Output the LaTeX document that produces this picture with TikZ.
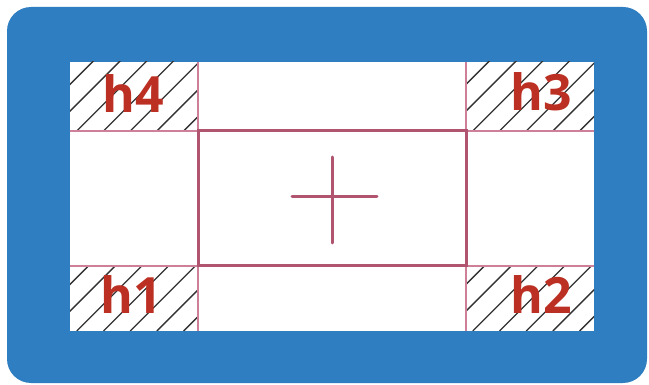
\documentclass[tikz,border=0pt]{standalone}
\usepackage{fontspec}
\newfontfamily\lblfont{Open Sans}
\definecolor{frameblue}{RGB}{47,126,193}
\definecolor{gridpink}{RGB}{206,128,152}
\definecolor{rectpink}{RGB}{176,84,112}
\definecolor{lblred}{RGB}{188,48,36}
\definecolor{hatchgray}{RGB}{50,50,50}
\tikzset{
  gridline/.style={draw=gridpink, line width=1.6pt},
  innerrect/.style={draw=rectpink, line width=3pt},
  crossline/.style={draw=rectpink, line width=3pt, line cap=round},
  hatchline/.style={draw=hatchgray, line width=1.3pt},
  lbl/.style={text=lblred, font=\lblfont\bfseries\fontsize{50}{50}\selectfont, inner sep=0pt, anchor=base}
}
\begin{document}
\begin{tikzpicture}[x=1pt,y=-1pt]
\useasboundingbox (0,0) rectangle (649,385);
\fill[white] (0,0) rectangle (649,385);
\fill[frameblue, rounded corners=24pt] (7,7) rectangle (647,383);
\fill[white] (70,62) rectangle (594,331);
\foreach \xa/\ya/\xb/\yb in {70/62/198/131, 466/62/594/131, 70/266/198/331, 466/266/594/331} {
  \begin{scope}
    \clip (\xa,\ya) rectangle (\xb,\yb);
    \foreach \k in {0,...,12} \draw[hatchline] (\xa-100+\k*26.7, \yb) -- ++(160,-160);
  \end{scope}
}
\draw[gridline] (198,62) -- (198,331);
\draw[gridline] (466,62) -- (466,331);
\draw[gridline] (70,131) -- (594,131);
\draw[gridline] (70,266) -- (594,266);
\draw[innerrect] (198,131) rectangle (466,266);
\draw[crossline] (292,197) -- (377,197);
\draw[crossline] (332,157) -- (332,243);
\node[lbl] (h4) at (133,113) {h4};
\node[lbl] (h3) at (541,111) {h3};
\node[lbl] (h1) at (131,313) {h1};
\node[lbl] (h2) at (541,313) {h2};
\end{tikzpicture}
\end{document}
